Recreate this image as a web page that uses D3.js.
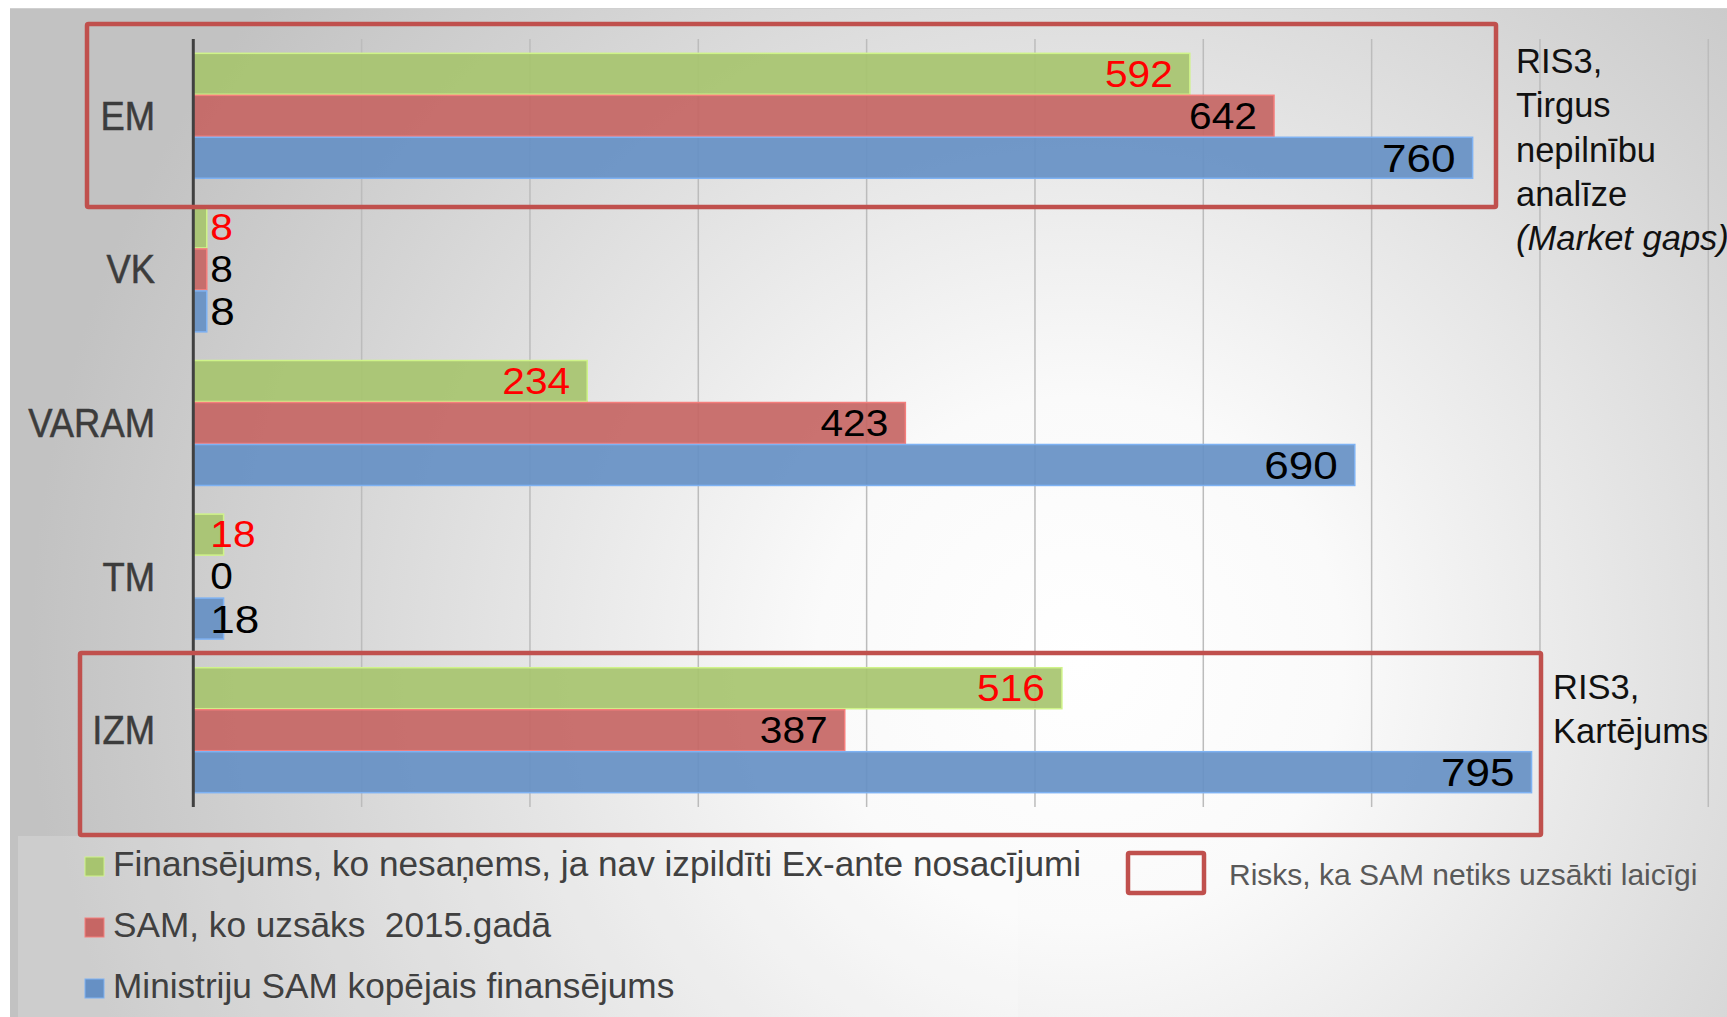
<!DOCTYPE html>
<html>
<head>
<meta charset="utf-8">
<script src="https://cdn.jsdelivr.net/npm/d3@7"></script>
<style>
  body { margin: 0; background: #fff; }
  svg { display: block; }
  text { white-space: pre; }
</style>
</head>
<body>
<div id="chart"></div>
<script>
const W = 1727, H = 1017

// data
const ministries = ["EM", "VK", "VARAM", "TM", "IZM"]
const seriesKeys = ["nesanems", "uzsaks2015", "kopejais"]
const seriesNames = [
  "Finansējums, ko nesaņems, ja nav izpildīti Ex-ante nosacījumi",
  "SAM, ko uzsāks  2015.gadā",
  "Ministriju SAM kopējais finansējums"
]
const nesanems = [592, 8, 234, 18, 516]
const uzsaks2015 = [642, 8, 423, 0, 387]
const kopejais = [760, 8, 690, 18, 795]
const gridTicks = [100, 200, 300, 400, 500, 600, 700, 800, 900]
const riskNotes = [
  ["RIS3,", "Tirgus", "nepilnību", "analīze", "(Market gaps)"],
  ["RIS3,", "Kartējums"]
]
const riskLegend = "Risks, ka SAM netiks uzsākti laicīgi"

const colors = ["#a7c46f", "#c66664", "#6690c4"]
const labelColors = ["#ff0000", "#000", "#000"]

const rows = ministries.map((m, i) => ({
  name: m,
  values: [nesanems[i], uzsaks2015[i], kopejais[i]]
}))

const svg = d3.select("#chart").append("svg")
  .attr("width", W)
  .attr("height", H)

// background gradient
const defs = svg.append("defs")
const bg = defs.append("radialGradient")
  .attr("id", "bg")
  .attr("gradientUnits", "userSpaceOnUse")
  .attr("cx", 1080).attr("cy", 660).attr("r", 1050)
bg.append("stop").attr("offset", 0).attr("stop-color", "#ffffff")
bg.append("stop").attr("offset", 0.25).attr("stop-color", "#fafafa")
bg.append("stop").attr("offset", 0.75).attr("stop-color", "#d4d4d4")
bg.append("stop").attr("offset", 1).attr("stop-color", "#c2c2c2")

svg.append("rect")
  .attr("x", 10).attr("y", 8)
  .attr("width", W - 10).attr("height", H - 8)
  .attr("fill", "url(#bg)")
svg.append("line")
  .attr("x1", 10).attr("x2", W).attr("y1", 8.5).attr("y2", 8.5)
  .attr("stroke", "#d0d0d0")

// legend panel, a bit lighter
svg.append("rect")
  .attr("x", 18).attr("y", 836)
  .attr("width", 1000).attr("height", H - 836)
  .attr("fill", "#fff").attr("opacity", 0.18)

// Scales
const x = d3.scaleLinear()
  .domain([0, 900])
  .range([193.3, 1708.3])
const y = d3.scaleBand()
  .domain(ministries)
  .range([39, 807])
  .paddingInner(0.18)
  .paddingOuter(0.09)
const ySub = d3.scaleBand()
  .domain(seriesKeys)
  .range([0, y.bandwidth()])

// grid lines
svg.append("g")
  .selectAll("line")
  .data(gridTicks)
  .join("line")
    .attr("x1", d => x(d)).attr("x2", d => x(d))
    .attr("y1", 39).attr("y2", 807)
    .attr("stroke", "#bcbcbc")
    .attr("stroke-width", 1.5)

// bars
const groups = svg.append("g")
  .selectAll("g")
  .data(rows)
  .join("g")
    .attr("transform", d => `translate(0, ${y(d.name)})`)

groups.selectAll("rect")
  .data(d => d.values.map((v, i) => ({ key: seriesKeys[i], i, v })))
  .join("rect")
    .attr("x", x(0))
    .attr("y", d => ySub(d.key) + 0.5)
    .attr("width", d => x(d.v) - x(0))
    .attr("height", ySub.bandwidth() - 1)
    .attr("fill", d => colors[d.i])
    .attr("fill-opacity", 0.92)
    .attr("stroke", d => d3.color(colors[d.i]).brighter(0.6))
    .attr("stroke-width", d => d.v > 0 ? 1.5 : 0)

// value labels (digits stretched a little, the original font is wider)
groups.selectAll("text")
  .data(d => d.values.map((v, i) => ({ key: seriesKeys[i], i, v })))
  .join("text")
    .attr("transform", d => {
      const tx = d.v > 60 ? x(d.v) - 17 : x(0) + 17
      const ty = ySub(d.key) + ySub.bandwidth() / 2 + (d.i === 2 ? 14 : 12.8)
      return `translate(${tx}, ${ty}) scale(1.13, 1)`
    })
    .attr("text-anchor", d => d.v > 60 ? "end" : "start")
    .attr("font-family", "Liberation Sans, Arial, sans-serif")
    .attr("font-size", d => d.i === 2 ? "39px" : "36px")
    .attr("fill", d => labelColors[d.i])
    .text(d => d.v)

// axis line
svg.append("line")
  .attr("x1", x(0)).attr("x2", x(0))
  .attr("y1", 39).attr("y2", 807)
  .attr("stroke", "#404040")
  .attr("stroke-width", 3)

// category labels (narrowed)
svg.append("g")
  .selectAll("text")
  .data(ministries)
  .join("text")
    .attr("transform", d => `translate(155, ${y(d) + y.bandwidth() / 2 + 14}) scale(0.91, 1)`)
    .attr("text-anchor", "end")
    .attr("font-family", "Liberation Sans, Arial, sans-serif")
    .attr("font-size", "40px")
    .attr("fill", "#3c3c3c")
    .attr("stroke", "#3c3c3c")
    .attr("stroke-width", 0.5)
    .text(d => d)

// risk boxes
const riskBoxes = [
  { x0: 87, x1: 1496, y0: 24, y1: 207, tx: 1516, ty: 72.7 },
  { x0: 80, x1: 1541, y0: 653, y1: 835, tx: 1553, ty: 699 }
]
riskBoxes.forEach((b, k) => {
  svg.append("rect")
    .attr("x", b.x0).attr("y", b.y0)
    .attr("width", b.x1 - b.x0).attr("height", b.y1 - b.y0)
    .attr("fill", "none")
    .attr("stroke", "#c0504d")
    .attr("stroke-width", 4.5)
    .attr("rx", 1.5)

  const t = svg.append("text")
    .attr("font-family", "Liberation Sans, Arial, sans-serif")
    .attr("font-size", "34.5px")
    .attr("fill", "#111")
  riskNotes[k].forEach((line, j) => {
    t.append("tspan")
      .attr("x", b.tx)
      .attr("y", b.ty + j * 44.4)
      .attr("font-style", line.startsWith("(") ? "italic" : "normal")
      .text(line)
  })
})

// legend
const legend = svg.append("g")
seriesNames.forEach((name, i) => {
  const row = legend.append("g")
    .attr("transform", `translate(0, ${876 + i * 61})`)
  row.append("rect")
    .attr("x", 85).attr("y", -19)
    .attr("width", 19).attr("height", 19)
    .attr("fill", colors[i])
    .attr("stroke", d3.color(colors[i]).brighter(0.6))
  row.append("text")
    .attr("x", 113)
    .attr("y", 0)
    .attr("font-family", "Liberation Sans, Arial, sans-serif")
    .attr("font-size", "35.2px")
    .attr("fill", "#404040")
    .text(name)
})

legend.append("rect")
  .attr("x", 1128).attr("y", 853)
  .attr("width", 76).attr("height", 40)
  .attr("fill", "none")
  .attr("stroke", "#c0504d")
  .attr("stroke-width", 4.5)
  .attr("rx", 1.5)
legend.append("text")
  .attr("x", 1229)
  .attr("y", 885)
  .attr("font-family", "Liberation Sans, Arial, sans-serif")
  .attr("font-size", "30px")
  .attr("fill", "#595959")
  .text(riskLegend)
</script>
</body>
</html>
